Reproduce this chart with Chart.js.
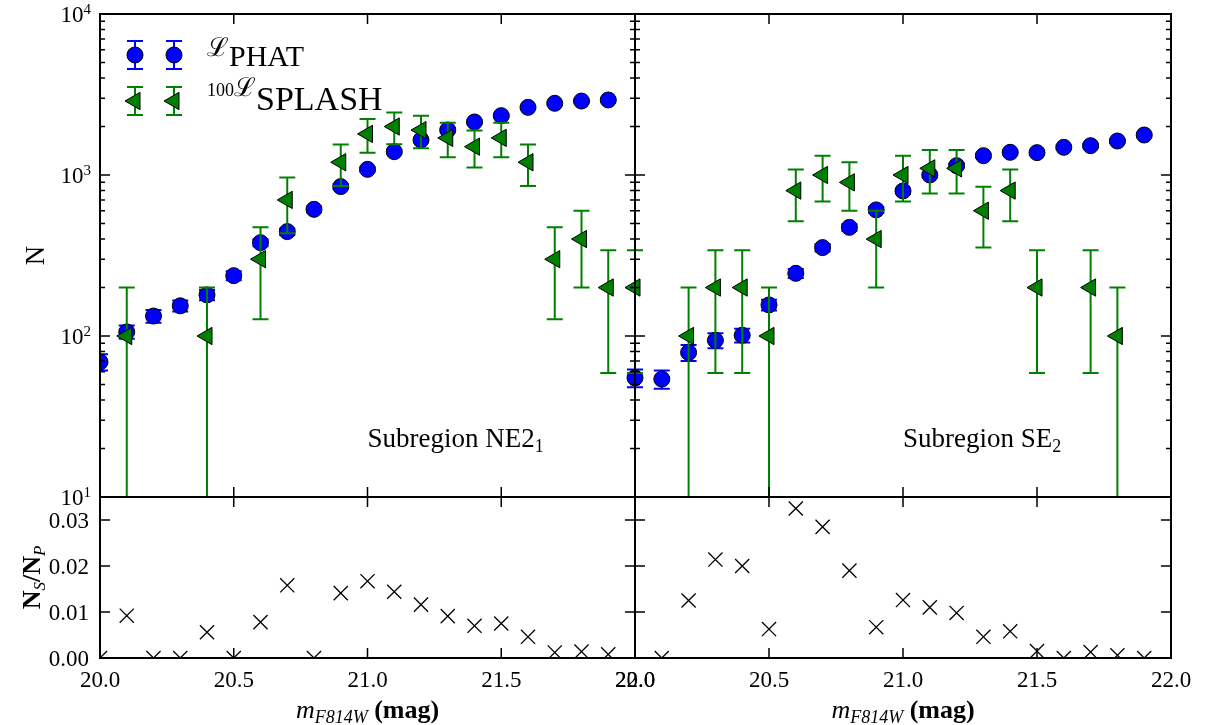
<!DOCTYPE html>
<html lang="en">
<head>
<meta charset="UTF-8">
<title>Luminosity functions NE2 / SE2</title>
<script src="https://cdn.jsdelivr.net/npm/chart.js@4.4.1/dist/chart.umd.min.js"></script>
<style>
  html, body { margin: 0; padding: 0; background: #fff; }
  #wrap { position: relative; width: 1206px; height: 725px; }
  #wrap canvas { position: absolute; left: 0; top: 0; }
</style>
</head>
<body>
<div id="wrap">
  <canvas id="topLeft" width="1206" height="725"></canvas>
  <canvas id="topRight" width="1206" height="725"></canvas>
  <canvas id="botLeft" width="1206" height="725"></canvas>
  <canvas id="botRight" width="1206" height="725"></canvas>
</div>

<script>
// magnitude bins (m_F814W)
const magBins = [20.0, 20.1, 20.2, 20.3, 20.4, 20.5, 20.6, 20.7, 20.8, 20.9,
                 21.0, 21.1, 21.2, 21.3, 21.4, 21.5, 21.6, 21.7, 21.8, 21.9, 22.0];

// Subregion NE2_1
const phatNE      = [69, 106, 133, 154, 180, 237, 380, 445, 612, 847, 1084, 1396, 1650, 1903, 2135, 2337, 2632, 2788, 2880, 2925, 55];
const phatNEErr   = [8, 10, 12, 12, 13, 15, 19, 21, 25, 29, 33, 37, 41, 44, 46, 48, 51, 53, 54, 54, 7];
const splashNE    = [null, 100, null, null, 100, null, 300, 700, null, 1200, 1800, 2000, 1900, 1700, 1500, 1700, 1200, 300, 400, 200, 200];
const splashNEErr = [null, 100, null, null, 100, null, 173, 265, null, 346, 424, 447, 436, 412, 387, 412, 346, 173, 200, 141, 141];
const ratioNE     = [0, 0.0092, 0, 0, 0.0056, 0, 0.0078, 0.0158, 0, 0.0141, 0.0167, 0.0144, 0.0116, 0.0091, 0.0070, 0.0075, 0.0046, 0.0012, 0.0014, 0.0008, null];

// Subregion SE2
const phatSE      = [55, 54, 79, 94, 101, 156, 245, 354, 473, 607, 796, 1000, 1143, 1318, 1383, 1377, 1486, 1521, 1626, 1772, null];
const phatSEErr   = [7, 7, 9, 10, 10, 12, 16, 19, 22, 25, 28, 32, 34, 36, 37, 37, 39, 39, 40, 42, null];
const splashSE    = [200, null, 100, 200, 200, 100, 800, 1000, 900, 400, 1000, 1100, 1100, 600, 800, 200, null, 200, 100, null, null];
const splashSEErr = [141, null, 100, 141, 141, 100, 283, 316, 300, 200, 316, 332, 332, 245, 283, 141, null, 141, 100, null, null];
const ratioSE     = [null, 0, 0.0125, 0.0214, 0.0200, 0.0063, 0.0325, 0.0285, 0.0190, 0.0067, 0.0126, 0.0110, 0.0098, 0.0046, 0.0058, 0.0015, 0, 0.0013, 0.0006, 0, null];

// axis ticks
const xTicks = [20.0, 20.5, 21.0, 21.5, 22.0];
const logTicks = [10, 100, 1000, 10000];
const ratioTicks = [0.00, 0.01, 0.02, 0.03];

const SERIF = "'Liberation Serif', 'DejaVu Serif', serif";
const BLUE = '#0000ff';
const GREEN = '#008000';

Chart.defaults.font.family = SERIF;
Chart.defaults.color = '#000';

function pts(vals, errs) {
    const out = [];
    magBins.forEach((m, i) => {
        if (vals[i] !== null) out.push({ x: m, y: vals[i], err: errs ? errs[i] : 0 });
    });
    return out;
}

// draw a run of text pieces (for sub/superscripts)
function richText(ctx, x, y, parts, align) {
    let w = 0;
    parts.forEach(p => { ctx.font = p.font; p.w = ctx.measureText(p.t).width; w += p.w; });
    let cx = align === 'center' ? x - w / 2 : (align === 'right' ? x - w : x);
    ctx.textAlign = 'left';
    ctx.textBaseline = 'alphabetic';
    parts.forEach(p => { ctx.font = p.font; ctx.fillText(p.t, cx, y + (p.dy || 0)); cx += p.w; });
}

function drawErrorBar(ctx, px, pyLo, pyHi, color, capLo) {
    ctx.strokeStyle = color;
    ctx.lineWidth = 2;
    ctx.beginPath();
    ctx.moveTo(px, pyLo); ctx.lineTo(px, pyHi);
    ctx.moveTo(px - 8, pyHi); ctx.lineTo(px + 8, pyHi);
    if (capLo) { ctx.moveTo(px - 8, pyLo); ctx.lineTo(px + 8, pyLo); }
    ctx.stroke();
}

const frameTicks = {
    id: 'frameTicks',
    beforeDatasetDraw(chart, args) {
        const ds = chart.data.datasets[args.index];
        if (!ds.errColor) return;
        const { ctx, chartArea: a } = chart;
        const xs = chart.scales.x, ys = chart.scales.y;
        ctx.save();
        ctx.beginPath();
        ctx.rect(a.left, a.top, a.right - a.left, a.bottom - a.top);
        ctx.clip();
        ds.data.forEach(p => {
            const px = xs.getPixelForValue(p.x);
            const lo = p.y - p.err, hi = p.y + p.err;
            const pyHi = ys.getPixelForValue(hi);
            const pyLo = lo > 0 ? ys.getPixelForValue(lo) : a.bottom + 20;
            drawErrorBar(ctx, px, pyLo, pyHi, ds.errColor, lo > 0);
        });
        ctx.restore();
    },
    afterDraw(chart, args, o) {
        const { ctx, chartArea: a } = chart;
        const xs = chart.scales.x, ys = chart.scales.y;
        ctx.save();
        ctx.strokeStyle = '#000';
        ctx.lineWidth = 1.5;
        ctx.beginPath();
        xTicks.forEach(v => {
            const px = xs.getPixelForValue(v);
            ctx.moveTo(px, a.top); ctx.lineTo(px, a.top + 10);
            ctx.moveTo(px, a.bottom); ctx.lineTo(px, a.bottom - 10);
        });
        const majors = o.log ? logTicks : ratioTicks;
        majors.forEach(v => {
            const py = ys.getPixelForValue(v);
            ctx.moveTo(a.left, py); ctx.lineTo(a.left + 10, py);
            ctx.moveTo(a.right, py); ctx.lineTo(a.right - 10, py);
        });
        if (o.log) {
            logTicks.slice(0, -1).forEach(d => {
                for (let m = 2; m <= 9; m++) {
                    const py = ys.getPixelForValue(m * d);
                    ctx.moveTo(a.left, py); ctx.lineTo(a.left + 5, py);
                    ctx.moveTo(a.right, py); ctx.lineTo(a.right - 5, py);
                }
            });
        }
        ctx.stroke();
        ctx.lineWidth = 2;
        ctx.strokeRect(a.left, a.top, a.right - a.left, a.bottom - a.top);

        ctx.fillStyle = '#000';
        // log tick labels 10^k
        if (o.log && o.yLabels) {
            logTicks.forEach(v => {
                const py = ys.getPixelForValue(v);
                const k = Math.round(Math.log10(v));
                richText(ctx, 91, py + 8, [
                    { t: '10', font: '23px ' + SERIF },
                    { t: String(k), font: '15px ' + SERIF, dy: -8 }
                ], 'right');
            });
            ctx.save();
            ctx.translate(35, (a.top + a.bottom) / 2);
            ctx.rotate(-Math.PI / 2);
            richText(ctx, 0, 9, [{ t: 'N', font: '27px ' + SERIF }], 'center');
            ctx.restore();
        }
        if (!o.log) {
            // x tick labels under the ratio panels
            xTicks.forEach(v => {
                richText(ctx, xs.getPixelForValue(v), a.bottom + 29, [
                    { t: v.toFixed(1), font: '23px ' + SERIF }
                ], 'center');
            });
            richText(ctx, (a.left + a.right) / 2, 718, [
                { t: 'm', font: 'italic 26px ' + SERIF },
                { t: 'F814W', font: 'italic 18px ' + SERIF, dy: 5 },
                { t: ' (mag)', font: 'bold 26px ' + SERIF }
            ], 'center');
        }
        if (!o.log && o.yLabels) {
            ratioTicks.forEach(v => {
                richText(ctx, a.left - 11, ys.getPixelForValue(v) + 8, [
                    { t: v.toFixed(2), font: '23px ' + SERIF }
                ], 'right');
            });
            ctx.save();
            ctx.translate(31, (a.top + a.bottom) / 2);
            ctx.rotate(-Math.PI / 2);
            richText(ctx, 0, 9, [
                { t: 'N', font: 'bold 26px ' + SERIF },
                { t: 'S', font: 'italic 17px ' + SERIF, dy: 5 },
                { t: '/N', font: 'bold 26px ' + SERIF },
                { t: 'P', font: 'italic 17px ' + SERIF, dy: 5 }
            ], 'center');
            ctx.restore();
        }
        if (o.region) {
            const w = a.right - a.left, h = a.bottom - a.top;
            richText(ctx, a.left + 0.5 * w, a.bottom - 0.104 * h, [
                { t: o.region[0], font: '27px ' + SERIF },
                { t: o.region[1], font: '18px ' + SERIF, dy: 5 }
            ], 'left');
        }
        if (o.legend) {
            const H = Chart.helpers;
            [135, 174].forEach(x => {
                drawErrorBar(ctx, x, 69, 41, BLUE, true);
                ctx.fillStyle = BLUE; ctx.strokeStyle = '#000'; ctx.lineWidth = 1;
                H.drawPoint(ctx, { pointStyle: 'circle', radius: 8, rotation: 0, borderWidth: 1 }, x, 55);
                drawErrorBar(ctx, x, 115, 87, GREEN, true);
                ctx.fillStyle = GREEN; ctx.strokeStyle = '#000'; ctx.lineWidth = 1;
                H.drawPoint(ctx, { pointStyle: 'triangle', radius: 10, rotation: -90, borderWidth: 1 }, x, 101);
            });
            ctx.fillStyle = '#000';
            richText(ctx, 207, 56, [
                { t: '\u2112', font: '26px ' + SERIF },
                { t: 'PHAT', font: '30px ' + SERIF, dy: 10 }
            ], 'left');
            richText(ctx, 207, 96, [
                { t: '100', font: '18px ' + SERIF },
                { t: '\u2112', font: '26px ' + SERIF },
                { t: 'SPLASH', font: '34px ' + SERIF, dy: 14 }
            ], 'left');
        }
        ctx.restore();
    }
};

function xScale() {
    return {
        type: 'linear', min: 20, max: 22,
        grid: { display: false, drawTicks: false },
        border: { display: false },
        ticks: { display: false },
        afterBuildTicks: s => { s.ticks = xTicks.map(v => ({ value: v })); },
        afterFit: s => { s.height = 0; }
    };
}

function logScale() {
    return {
        type: 'logarithmic', min: 10, max: 10000,
        grid: { display: false, drawTicks: false },
        border: { display: false },
        ticks: { display: false },
        afterFit: s => { s.width = 0; }
    };
}

function ratioScale() {
    return {
        type: 'linear', min: 0, max: 0.035,
        grid: { display: false, drawTicks: false },
        border: { display: false },
        ticks: { display: false },
        afterBuildTicks: s => { s.ticks = ratioTicks.map(v => ({ value: v })); },
        afterFit: s => { s.width = 0; }
    };
}

function lumDatasets(phat, phatErr, splash, splashErr) {
    // green listed first so it is drawn over the blue points
    return [
        {
            label: '100 L SPLASH', data: pts(splash, splashErr), errColor: GREEN, clip: 0,
            pointStyle: 'triangle', pointRotation: -90, pointRadius: 10,
            pointBackgroundColor: GREEN, pointBorderColor: '#000', pointBorderWidth: 1, showLine: false
        },
        {
            label: 'L PHAT', data: pts(phat, phatErr), errColor: BLUE, clip: 0,
            pointStyle: 'circle', pointRadius: 8,
            pointBackgroundColor: BLUE, pointBorderColor: '#000', pointBorderWidth: 1, showLine: false
        }
    ];
}

function ratioDatasets(ratio) {
    return [{
        label: 'NS/NP', data: pts(ratio), clip: 0,
        pointStyle: 'crossRot', pointRadius: 10,
        pointBorderColor: '#000', pointBorderWidth: 1.3, showLine: false
    }];
}

function makePanel(id, pad, scales, datasets, deco) {
    return new Chart(document.getElementById(id), {
        type: 'scatter',
        data: { datasets },
        options: {
            responsive: false,
            animation: false,
            events: [],
            layout: { padding: pad },
            plugins: { legend: { display: false }, tooltip: { enabled: false }, frameTicks: deco },
            scales
        },
        plugins: [frameTicks]
    });
}

makePanel('topLeft', { left: 100, right: 571, top: 14, bottom: 228 },
    { x: xScale(), y: logScale() },
    lumDatasets(phatNE, phatNEErr, splashNE, splashNEErr),
    { log: true, yLabels: true, legend: true, region: ['Subregion NE2', '1'] });

makePanel('topRight', { left: 635, right: 35, top: 14, bottom: 228 },
    { x: xScale(), y: logScale() },
    lumDatasets(phatSE, phatSEErr, splashSE, splashSEErr),
    { log: true, yLabels: false, region: ['Subregion SE', '2'] });

makePanel('botLeft', { left: 100, right: 571, top: 497, bottom: 67 },
    { x: xScale(), y: ratioScale() },
    ratioDatasets(ratioNE),
    { log: false, yLabels: true });

makePanel('botRight', { left: 635, right: 35, top: 497, bottom: 67 },
    { x: xScale(), y: ratioScale() },
    ratioDatasets(ratioSE),
    { log: false, yLabels: false });
</script>
</body>
</html>
